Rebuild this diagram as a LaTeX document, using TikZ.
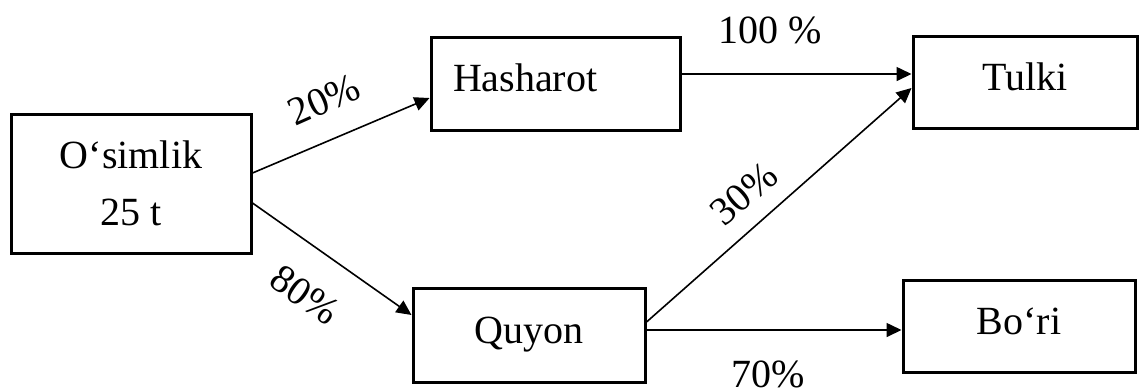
\documentclass[tikz,border=0pt]{standalone}
\usepackage{fontspec}
\setmainfont{Liberation Serif}
\usetikzlibrary{arrows.meta}
\begin{document}
\begin{tikzpicture}[x=0.5pt,y=-0.5pt,
  box/.style={draw,line width=1.5pt,inner sep=0pt,font=\fontsize{20pt}{28.5pt}\selectfont,
    text height=10pt,text depth=2pt},
  arr/.style={line width=0.8pt,-{Triangle[length=7.5pt,width=7pt]}},
  lbl/.style={font=\fontsize{20pt}{24pt}\selectfont,inner sep=0pt}]
\useasboundingbox (0,0) rectangle (1139,388);
% boxes
\node[box,minimum width=120pt,minimum height=69.5pt,align=center,text height=,text depth=] (os) at (131,183.5) {O‘simlik\\25 t};
\node[box,minimum height=46.5pt,inner xsep=11pt,text width=102.5pt,align=left] (has) at (555.5,83.5) {Hasharot};
\node[box,minimum width=112pt,minimum height=46pt] (tul) at (1025,82) {Tulki};
\node[box,minimum width=116pt,minimum height=47pt] (quy) at (529,335) {Quyon};
\node[box,minimum width=116pt,minimum height=46pt] (bor) at (1019,326) {Bo‘ri};
% connectors
\draw[arr] ([yshift=5.25pt]os.east) -- ([yshift=-7.25pt]has.west);
\draw[arr] ([yshift=-9.75pt]os.east) -- ([yshift=10pt]quy.west);
\coordinate (h1) at ([yshift=4.75pt]has.east);
\draw[arr] (h1) -- (h1 -| tul.west);
\draw[arr] ([yshift=6.5pt]quy.east) -- ([yshift=-3pt]tul.west);
\coordinate (q2) at ([yshift=2.5pt]quy.east);
\draw[arr] (q2) -- (q2 -| bor.west);
% labels
\node[lbl,rotate=24] (l20) at (324,100) {20\%};
\node[lbl,rotate=-35] (l80) at (305,295) {80\%};
\node[lbl] (l100) at (770,30) {100 \%};
\node[lbl,rotate=41] (l30) at (744,194) {30\%};
\node[lbl] (l70) at (768,374) {70\%};
\end{tikzpicture}
\end{document}
